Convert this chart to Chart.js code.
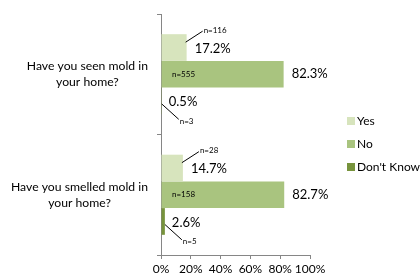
<!DOCTYPE html>
<html><head><meta charset="utf-8">
<script src="https://cdn.jsdelivr.net/npm/chart.js@4/dist/chart.umd.min.js"></script>
<style>html,body{margin:0;padding:0;background:#fff;overflow:hidden;} #c{display:block;}</style>
</head><body>
<canvas id="c" width="420" height="280"></canvas>
<script>
const categories = [["Have you seen mold in", "your home?"], ["Have you smelled mold in", "your home?"]];
const seriesNames = ["Yes", "No", "Don't Know"];
const yesPct = [17.2, 14.7];
const noPct = [82.3, 82.7];
const dkPct = [0.5, 2.6];
const yesN = [116, 28];
const noN = [555, 158];
const dkN = [3, 5];
const xTicks = [0, 20, 40, 60, 80, 100];

const colors = ['#d7e4bd', '#a9c47f', '#77933c'];
const FONT = 'Lato, "Open Sans", sans-serif';

const labelPlugin = {
  id: 'customLabels',
  afterDraw(chart) {
    const ctx = chart.ctx;
    const ys = chart.scales.y;
    const area = chart.chartArea;
    ctx.save();
    ctx.fillStyle = '#000';
    ctx.textBaseline = 'middle';

    // category labels (centered lines, right edge aligned near axis)
    ctx.font = '12.2px ' + FONT;
    ctx.textAlign = 'center';
    categories.forEach((lines, i) => {
      const cy = ys.getPixelForValue(i);
      const maxW = Math.max(...lines.map(l => ctx.measureText(l).width));
      const cx = area.left - 13 - maxW / 2;
      const lh = 16;
      lines.forEach((l, k) => ctx.fillText(l, cx, cy + (k - (lines.length - 1) / 2) * lh));
    });

    ctx.textAlign = 'left';
    ctx.strokeStyle = '#000';
    ctx.lineWidth = 1;
    const pct = v => v.toFixed(1) + '%';
    categories.forEach((_, i) => {
      // Yes
      let el = chart.getDatasetMeta(0).data[i];
      let top = el.y - el.height / 2, bottom = el.y + el.height / 2;
      ctx.font = '13px ' + FONT;
      ctx.fillText(pct(yesPct[i]), el.x + 8, el.y + 1);
      ctx.font = '8px ' + FONT;
      ctx.fillText('n=' + yesN[i], el.x + 17, top - 4);
      ctx.beginPath();
      ctx.moveTo(el.x - 1, top + 8);
      ctx.lineTo(el.x + 16, top - 3);
      ctx.stroke();

      // No
      el = chart.getDatasetMeta(1).data[i];
      ctx.font = '8px ' + FONT;
      ctx.fillText('n=' + noN[i], area.left + 11, el.y);
      ctx.font = '13px ' + FONT;
      ctx.fillText(pct(noPct[i]), el.x + 8, el.y);

      // Don't Know
      el = chart.getDatasetMeta(2).data[i];
      top = el.y - el.height / 2; bottom = el.y + el.height / 2;
      ctx.font = '13px ' + FONT;
      ctx.fillText(pct(dkPct[i]), el.x + 7, el.y + 1);
      ctx.font = '8px ' + FONT;
      ctx.fillText('n=' + dkN[i], el.x + 18, bottom + 7);
      ctx.beginPath();
      ctx.moveTo(el.x, el.y + 3);
      ctx.lineTo(el.x + 17, bottom + 5);
      ctx.stroke();
    });

    // legend
    ctx.font = '12px ' + FONT;
    const legY = [121, 144, 167];
    seriesNames.forEach((name, k) => {
      ctx.fillStyle = colors[k];
      ctx.fillRect(347, legY[k] - 4, 8, 8);
      ctx.fillStyle = '#000';
      ctx.fillText(name, 357, legY[k]);
    });
    ctx.restore();
  }
};

new Chart(document.getElementById('c'), {
  type: 'bar',
  data: {
    labels: categories.map((c, i) => 'c' + i),
    datasets: [
      { label: seriesNames[0], data: yesPct, backgroundColor: colors[0] },
      { label: seriesNames[1], data: noPct, backgroundColor: colors[1] },
      { label: seriesNames[2], data: dkPct, backgroundColor: colors[2] }
    ]
  },
  options: {
    indexAxis: 'y',
    responsive: false,
    animation: false,
    layout: { padding: { top: 14, right: 110, left: 0, bottom: 0 } },
    datasets: { bar: { categoryPercentage: 0.665, barPercentage: 1, borderWidth: 0 } },
    plugins: { legend: { display: false }, tooltip: { enabled: false } },
    scales: {
      x: {
        min: 0, max: 100,
        afterBuildTicks: s => { s.ticks = xTicks.map(v => ({ value: v })); },
        ticks: { autoSkip: false, callback: v => v + '%', color: '#000', font: { family: FONT, size: 12 }, padding: 3, maxRotation: 0 },
        grid: { drawOnChartArea: false, tickLength: 4, color: '#868686' },
        border: { color: '#868686' },
        afterFit: s => { s.height = 25; }
      },
      y: {
        ticks: { display: false },
        grid: { drawOnChartArea: false, tickLength: 4, color: '#868686', offset: true },
        border: { color: '#868686' },
        afterFit: s => { s.width = 161; }
      }
    }
  },
  plugins: [labelPlugin]
});
</script>
</body></html>
